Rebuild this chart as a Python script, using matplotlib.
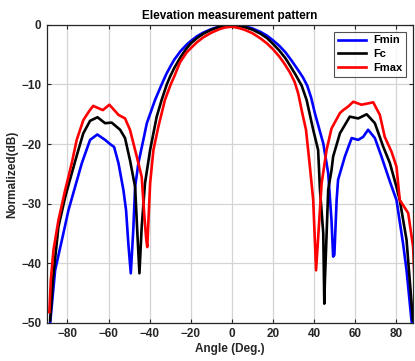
import matplotlib
matplotlib.use("Agg")
import matplotlib.pyplot as plt

plt.rcParams['font.family'] = ['Liberation Sans', 'DejaVu Sans']
plt.rcParams['font.weight'] = 'bold'

# Fmin (blue)
ang_fmin = [-88.4, -86.0, -82.7, -79.5, -76.3, -73.0, -69.0, -65.5, -61.7, -59.3, -57.3,
            -55.2, -52.8, -51.5, -50.4, -49.2, -48.0, -47.1, -45.5, -43.1, -41.4, -37.4,
            -34.2, -32.0, -30.0, -28.0, -25.0, -22.0, -20.0, -17.0, -14.0, -10.0, -6.0,
            -3.0, 0.0, 3.0, 6.0, 10.0, 14.0, 17.0, 20.0, 23.0, 26.0, 29.0, 32.0, 34.5,
            36.6, 38.5, 40.3, 44.4,
            46.8, 48.4, 49.2, 49.8, 50.9, 51.6, 54.9, 58.2, 61.4, 63.8, 66.2, 69.5,
            72.7, 76.8, 80.0, 83.2, 84.9, 87.3, 88.5]
db_fmin = [-50.0, -41.2, -36.1, -31.1, -27.2, -23.2, -19.3, -18.4, -19.3, -20.0, -20.5,
           -23.2, -27.7, -31.1, -36.7, -41.7, -34.5, -27.2, -23.2, -19.3, -16.5, -12.6,
           -10.0, -8.3, -7.0, -5.8, -4.4, -3.3, -2.7, -1.9, -1.3, -0.7, -0.25,
           -0.05, 0.0, -0.05, -0.2, -0.6, -1.2, -1.8, -2.6, -3.5, -4.6, -6.0, -7.5, -8.8,
           -10.2, -12.2, -14.8, -19.9,
           -24.9, -32.8, -38.9, -38.6, -29.4, -26.0, -22.1, -19.0, -19.3, -18.8, -17.6, -19.0,
           -22.1, -26.3, -29.4, -36.7, -41.2, -49.6, -52.0]

# Fc (black)
ang_fc = [-88.4, -87.1, -84.4, -81.1, -77.9, -74.7, -72.3, -69.0, -65.4, -61.7, -58.5,
          -54.4, -52.0, -49.6, -47.1, -46.0, -45.0, -43.9, -42.3, -39.8, -36.6, -34.2,
          -31.7, -30.0, -28.0, -25.0, -22.0, -20.0, -17.0, -14.0, -10.0, -6.0, -3.0,
          0.0, 3.0, 6.0, 10.0, 14.0, 17.0, 20.0, 23.0, 26.0, 28.2, 31.0, 33.9, 36.3,
          39.5, 41.9,
          42.8, 44.4, 44.9, 45.2, 46.8, 48.4, 49.2, 52.5, 57.3, 61.4, 65.5, 69.5,
          73.5, 76.8, 80.0, 81.6, 84.9, 88.0]
db_fc = [-49.6, -42.9, -33.9, -28.9, -24.9, -21.0, -18.2, -16.1, -15.5, -16.5, -16.4,
         -17.6, -19.0, -22.7, -27.2, -35.0, -41.7, -33.9, -26.6, -21.0, -15.4, -12.6,
         -10.0, -8.6, -7.2, -5.4, -3.9, -3.1, -2.2, -1.5, -0.8, -0.35, -0.15,
         -0.1, -0.15, -0.35, -0.8, -1.5, -2.2, -3.2, -4.3, -5.6, -6.8, -8.4, -10.2, -12.6,
         -17.6, -21.0,
         -27.7, -35.0, -46.8, -42.9, -27.7, -24.4, -22.1, -18.2, -15.4, -15.7, -15.0, -16.5,
         -20.4, -23.2, -27.2, -29.4, -36.1, -49.6]

# Fmax (red)
ang_fmax = [-88.8, -88.1, -86.8, -84.4, -81.1, -77.9, -75.5, -72.3, -69.5, -67.5, -62.8,
            -59.6, -55.2, -52.0, -49.6, -46.3, -43.9, -42.8, -41.8, -41.2, -39.8, -38.2,
            -35.8, -32.6, -29.8, -28.0, -25.3, -22.0, -20.0, -17.0, -14.0, -10.0, -6.0,
            -3.0, 0.0, 3.0, 6.0, 10.0, 14.0, 17.0, 20.0, 23.0, 25.5, 28.2, 30.5, 32.2,
            34.0, 36.0, 37.9, 39.5, 40.3, 40.9, 43.6, 46.0, 48.4, 52.5,
            54.1, 56.5, 59.0, 63.0, 68.7, 71.9, 74.3, 77.6, 80.0, 81.6, 85.7, 88.1, 88.9]
db_fmax = [-48.2, -42.9, -37.8, -32.8, -27.7, -23.2, -19.3, -16.0, -14.5, -13.6, -14.3,
           -13.4, -15.1, -15.7, -17.6, -22.1, -25.5, -31.1, -35.6, -37.3, -26.6, -21.0,
           -17.1, -12.6, -10.0, -8.6, -6.3, -4.6, -3.9, -2.9, -2.1, -1.3, -0.7,
           -0.4, -0.3, -0.5, -0.8, -1.4, -2.3, -3.1, -4.1, -5.3, -6.5, -8.0, -9.6, -11.5,
           -14.5, -17.6, -23.8, -29.4, -36.1, -41.2, -26.6, -21.0, -17.4, -14.8,
           -14.3, -13.7, -12.9, -13.4, -13.0, -15.1, -18.8, -21.3, -23.8, -29.4, -31.6, -37.3, -44.0]

series_labels = ['Fmin', 'Fc', 'Fmax']
xticks = [-80, -60, -40, -20, 0, 20, 40, 60, 80]
yticks = [0, -10, -20, -30, -40, -50]

fig = plt.figure(figsize=(4.15, 3.61), dpi=100)
ax = fig.add_axes([0.113, 0.106, 0.882, 0.825])

ax.plot(ang_fmin, db_fmin, color='#0000ff', lw=1.9, label=series_labels[0])
ax.plot(ang_fc, db_fc, color='#000000', lw=1.9, label=series_labels[1])
ax.plot(ang_fmax, db_fmax, color='#ff0000', lw=1.9, label=series_labels[2])

ax.set_xlim(-90, 88)
ax.set_ylim(-50, 0)
ax.set_xticks(xticks)
ax.set_yticks(yticks)
ax.grid(True, color='#d4d4d4', lw=0.9)
ax.set_axisbelow(True)
ax.tick_params(direction='in', top=True, right=True, length=3, width=0.8,
               labelsize=8.5, colors='#262626', pad=4)
for lab in ax.get_xticklabels() + ax.get_yticklabels():
    lab.set_fontweight('bold')
for sp in ax.spines.values():
    sp.set_color('#262626')
    sp.set_linewidth(0.9)

ax.set_title('Elevation measurement pattern', fontsize=8.5, fontweight='bold', pad=4)
ax.set_xlabel('Angle (Deg.)', fontsize=8.5, fontweight='bold', color='#262626', labelpad=2)
ax.set_ylabel('Normalized(dB)', fontsize=8.5, fontweight='bold', color='#262626', labelpad=2)

leg = ax.legend(loc='upper right', fontsize=8, frameon=True, fancybox=False,
                edgecolor='#262626', handlelength=2.6, borderpad=0.35,
                labelspacing=0.35, borderaxespad=0.6, handletextpad=0.6)
leg.get_frame().set_linewidth(0.8)
for t in leg.get_texts():
    t.set_fontweight('bold')

fig.savefig('out.png', dpi=100)
